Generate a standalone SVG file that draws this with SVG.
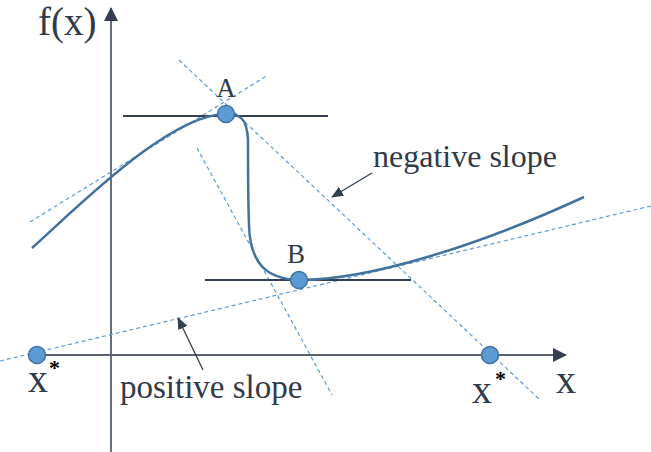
<svg xmlns="http://www.w3.org/2000/svg" width="651" height="452" viewBox="0 0 651 452">
<defs>
<marker id="ah" viewBox="0 0 12 10" refX="11" refY="5" markerWidth="12" markerHeight="10" markerUnits="userSpaceOnUse" orient="auto">
<path d="M0,0 L12,5 L0,10 Z" fill="#333F50"/>
</marker>
<marker id="axh" viewBox="0 0 14 14" refX="13" refY="7" markerWidth="14" markerHeight="14" markerUnits="userSpaceOnUse" orient="auto">
<path d="M0,0 L14,7 L0,14 Z" fill="#333F50"/>
</marker>
</defs>
<style>
text{font-family:"Liberation Serif","Times New Roman",serif;fill:#2F3A4A}
.dash{fill:none;stroke:#5B9BD5;stroke-width:1.2;stroke-dasharray:4 3}
.tan{stroke:#333F50;stroke-width:2}
.pt{fill:#5B9BD5;stroke:#41719C;stroke-width:1.5}
.ast{font-weight:bold;fill:#000}
</style>
<rect width="651" height="452" fill="#fff"/>
<g id="axes">
<line x1="111" y1="452" x2="111" y2="8" stroke="#333F50" stroke-width="1.5" marker-end="url(#axh)"/>
<line x1="37" y1="355" x2="566" y2="355" stroke="#5A6272" stroke-width="2" marker-end="url(#axh)"/>
</g>
<g id="connectors">
<line class="dash" x1="30" y1="222" x2="268" y2="75"/>
<line class="dash" x1="179" y1="60" x2="540" y2="400"/>
<line class="dash" x1="197" y1="148" x2="332" y2="395"/>
<line class="dash" x1="0" y1="361" x2="651" y2="206"/>
<line class="tan" x1="123" y1="116" x2="328" y2="116"/>
<line class="tan" x1="205" y1="280" x2="411" y2="280"/>
<line x1="372" y1="173" x2="332" y2="197" stroke="#333F50" stroke-width="1.3" marker-end="url(#ah)"/>
<line x1="203" y1="370" x2="178" y2="318" stroke="#333F50" stroke-width="1.3" marker-end="url(#ah)"/>
</g>
<g id="curve">
<path d="M32,248 C80,205 170,114 226,114 C240,114 247,118 248,140 C248,180 248,200 249,225 C250,262 265,279 299,280 C370,280 480,245 584,197" fill="none" stroke="#41719C" stroke-width="2.5"/>
</g>
<g id="pointA"><circle class="pt" cx="226" cy="114" r="8.5"/><text x="226" y="97" font-size="27" text-anchor="middle">A</text></g>
<g id="pointB"><circle class="pt" cx="299" cy="280" r="8.5"/><text x="296" y="263" font-size="27" text-anchor="middle">B</text></g>
<g id="xstarLeft"><circle class="pt" cx="37" cy="355" r="8.5"/><text x="28" y="392" font-size="40">x<tspan class="ast" x="49" y="375" font-size="22">*</tspan></text></g>
<g id="xstarRight"><circle class="pt" cx="490" cy="355" r="8.5"/><text x="472" y="403" font-size="40">x<tspan class="ast" x="495" y="386" font-size="22">*</tspan></text></g>
<g id="labels">
<text x="38" y="35" font-size="39">f(x)</text>
<text x="556" y="393" font-size="40">x</text>
<text x="373" y="167" font-size="32">negative slope</text>
<text x="120" y="398" font-size="33">positive slope</text>
</g>
</svg>
